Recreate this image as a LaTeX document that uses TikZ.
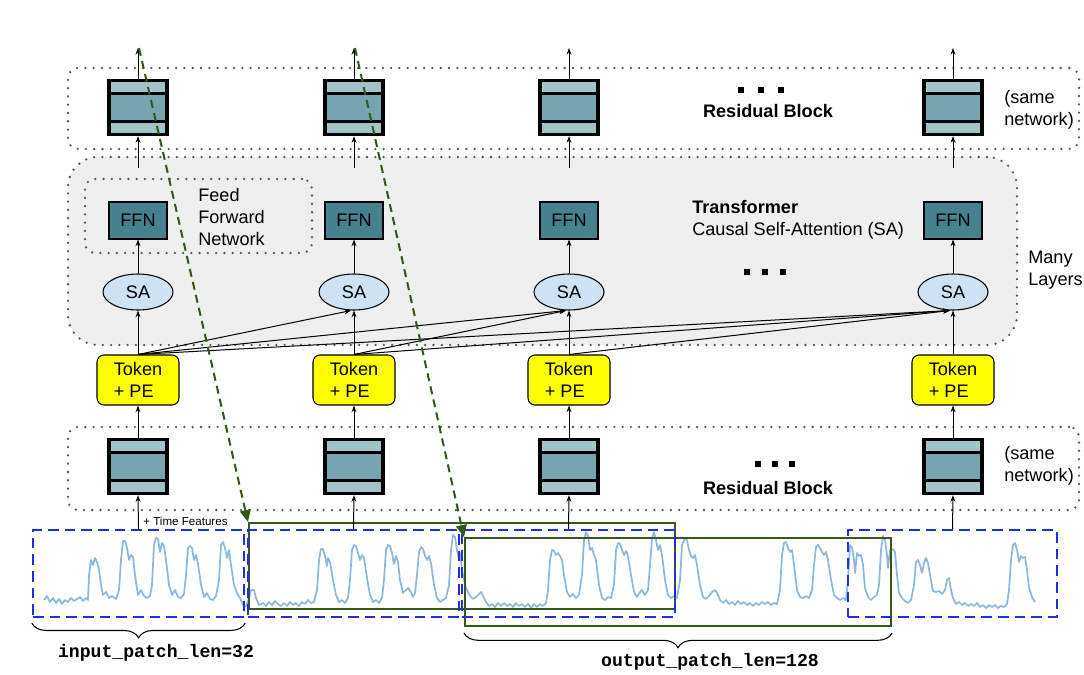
\documentclass[tikz,border=0pt]{standalone}
\usepackage{fontspec}
\setmainfont{Liberation Sans}
\setmonofont{Liberation Mono}
\usetikzlibrary{shapes.geometric,arrows.meta,decorations.pathreplacing,calc}
\newdimen\pxu \pxu=0.75pt
\definecolor{bandc}{HTML}{A2C4C9}
\definecolor{midc}{HTML}{76A5AF}
\definecolor{ffnc}{HTML}{45818E}
\definecolor{sac}{HTML}{CFE2F3}
\definecolor{trc}{HTML}{EFEFEF}
\definecolor{tokc}{HTML}{FFFF00}
\definecolor{patchc}{HTML}{1F2FE0}
\definecolor{grnc}{HTML}{38571F}
\definecolor{grnarr}{HTML}{2E5A14}
\definecolor{sigc}{HTML}{8DB8DE}
\definecolor{dotc}{HTML}{555555}
\newcommand\mainsz{\fontsize{13.6}{16.5}\selectfont}
\newcommand\smallsz{\fontsize{8.7}{10}\selectfont}
\tikzset{
  dotbox/.style={draw=dotc, line width=1.9pt, line cap=round, dash pattern=on 0pt off 6.2pt},
  resblock/.style={rectangle, draw=black, line width=3.2\pxu, fill=bandc,
    minimum width=58\pxu, minimum height=54\pxu, inner sep=0pt,
    path picture={
      \fill[midc] ([yshift=-13\pxu]path picture bounding box.north west) rectangle ([yshift=13\pxu]path picture bounding box.south east);
      \draw[line width=3.2\pxu] ([yshift=-13\pxu]path picture bounding box.north west) -- ([yshift=-13\pxu]path picture bounding box.north east);
      \draw[line width=3.2\pxu] ([yshift=13\pxu]path picture bounding box.south west) -- ([yshift=13\pxu]path picture bounding box.south east);
    }},
  ffnbox/.style={rectangle, draw=black, line width=0.8pt, fill=ffnc, minimum width=58\pxu, minimum height=37\pxu, inner sep=0pt},
  sabox/.style={ellipse, draw=black, line width=0.8pt, fill=sac, minimum width=70\pxu, minimum height=36\pxu, inner sep=0pt},
  tokbox/.style={rectangle, rounded corners=7\pxu, draw=black, line width=0.8pt, fill=tokc, minimum width=82\pxu, minimum height=50\pxu, inner sep=0pt, align=left},
  arr/.style={-{Stealth[length=5pt,width=3.6pt]}, line width=0.75pt},
  patch/.style={rectangle, draw=patchc, line width=1.7pt, dash pattern=on 8pt off 4.5pt, minimum width=211\pxu, minimum height=87\pxu, inner sep=0pt},
  gbox/.style={rectangle, draw=grnc, line width=1.5pt, minimum width=426\pxu, inner sep=0pt},
  garr/.style={draw=grnarr, line width=1.5pt, dash pattern=on 6pt off 4pt, -{Triangle[length=9pt,width=8pt]}},
  sig/.style={draw=sigc, line width=1.3pt, line join=round},
  lbl/.style={inner sep=0pt, align=left},
  brc/.style={decorate, decoration={brace, amplitude=11pt, mirror}, line width=0.8pt},
  dotsq/.style={fill=black}
}
\begin{document}
\begin{tikzpicture}[x=0.75pt,y=-0.75pt,font=\mainsz]
\useasboundingbox (0,0) rectangle (1084,674);
% regions
\node[dotbox, rounded corners=10\pxu, minimum width=1011\pxu, minimum height=81\pxu] (topreg) at (573.5,108.5) {};
\node[dotbox, fill=trc, rounded corners=30\pxu, minimum width=949\pxu, minimum height=188\pxu] (trreg) at (542.5,251) {};
\node[dotbox, rounded corners=10\pxu, minimum width=1011\pxu, minimum height=83\pxu] (botreg) at (573.5,468.5) {};
\node[dotbox, rounded corners=10\pxu, minimum width=227\pxu, minimum height=74\pxu] (ffnreg) at (198.5,216) {};

% signal
\draw[sig] plot coordinates {
(44,600) (47,596) (50,602) (53,598) (56,603) (59,599) (62,604) (65,600) (68,602) (71,598) (74,601) (77,599) (80,597) (83,601) (86,598) (88,600)
(89,575) (91,560) (93,565) (95,558) (97,562) (99,570) (101,585) (103,595) (106,592) (109,598) (112,596) (116,599) (119,590)
(121,560) (123,541) (125,541) (127,548) (129,560) (131,555) (133,557) (135,575) (138,595) (141,590) (144,596) (147,598) (150,596) (152,585)
(154,545) (156,538) (158,539) (160,552) (162,543) (164,546) (166,560) (169,585) (172,595) (175,590) (178,597) (181,598) (184,594) (186,575)
(188,548) (190,546) (192,548) (194,560) (196,555) (198,564) (201,585) (204,597) (207,593) (210,599) (213,600) (216,596) (219,580)
(221,545) (223,542) (225,548) (227,558) (229,550) (231,565) (234,585) (237,593) (240,598) (243,605)
(246,606) (249,598) (251,590) (254,590) (256,598) (259,605) (263,603) (266,606) (269,602) (272,605) (275,601) (278,604) (281,606) (284,603) (287,606) (290,602) (293,605) (296,603) (299,606) (302,602) (305,604) (308,600) (311,603) (314,602) (317,590)
(319,560) (321,549) (323,549) (325,556) (327,566) (328,558) (330,562) (333,580) (336,595) (339,602) (342,600) (345,603) (348,598) (350,580)
(352,550) (354,545) (356,546) (358,553) (360,560) (362,555) (364,558) (367,578) (370,595) (373,602) (376,600) (379,603) (382,598) (384,580)
(386,550) (388,545) (390,546) (392,553) (394,564) (396,556) (398,562) (400,580) (403,593) (406,590) (408,588) (411,592) (413,597) (415,593) (417,575)
(419,552) (421,547) (423,549) (425,556) (427,560) (429,556) (431,563) (434,585) (437,598) (440,602) (443,600) (446,598) (449,585)
(451,550) (453,535) (455,537) (457,550) (459,560) (460,553) (462,570) (465,585) (467,590) (470,596) (473,599) (476,597) (479,594) (481,592) (483,596) (486,602) (489,606)
(492,604) (495,607) (498,603) (501,606) (504,603) (507,606) (510,604) (513,607) (516,603) (519,606) (522,604) (525,607) (528,604) (531,608) (534,604) (537,607) (540,604) (543,606) (546,603) (548,590)
(550,560) (552,550) (554,551) (556,555) (558,553) (560,556) (562,560) (564,575) (567,592) (570,597) (573,594) (576,598) (579,595) (582,575)
(584,540) (586,532) (588,536) (590,550) (592,548) (594,555) (596,560) (599,585) (602,598) (605,600) (608,597) (611,598) (614,585)
(616,550) (618,543) (620,544) (622,550) (624,555) (626,551) (628,556) (631,575) (634,592) (637,597) (640,592) (642,590) (645,595) (648,590) (650,565)
(652,538) (654,532) (656,540) (658,550) (660,545) (662,555) (665,580) (668,595) (671,598) (674,596) (677,598) (680,580)
(682,545) (685,538) (687,540) (689,550) (691,556) (693,558) (695,555) (697,565) (700,585) (703,597) (706,599) (709,596) (712,592) (715,590) (717,593) (720,600) (723,603)
(726,600) (729,604) (732,602) (735,605) (738,601) (741,604) (744,602) (747,605) (750,603) (753,606) (756,603) (759,605) (762,602) (765,604) (768,602) (771,605) (774,603) (777,604) (780,590)
(782,555) (784,543) (786,542) (788,548) (790,552) (792,550) (794,565) (797,590) (800,597) (803,598) (806,596) (809,598) (812,590) (814,565)
(816,547) (818,545) (820,548) (822,552) (824,555) (826,552) (828,560) (831,580) (834,595) (837,598) (840,600) (843,598) (846,600) (848,580)
(850,545) (852,548) (854,560) (855,573) (857,553) (859,556) (861,555) (863,565) (865,588) (868,597) (871,600) (874,597) (877,595) (879,585) (881,550)
(883,536) (885,540) (887,555) (888,568) (890,550) (893,549) (895,552) (897,575) (899,593) (902,598) (905,601) (908,603) (911,600) (914,585)
(916,562) (918,560) (920,565) (922,573) (924,563) (926,558) (928,563) (930,575) (933,591) (936,592) (939,591) (942,594) (945,590) (947,580) (949,578) (951,590) (953,598) (956,604)
(959,602) (962,605) (965,603) (968,606) (971,604) (974,606) (977,603) (980,607) (983,605) (986,608) (989,605) (992,607) (995,605) (998,608) (1001,606) (1004,607) (1007,604) (1009,590)
(1011,560) (1013,545) (1015,543) (1017,550) (1019,562) (1021,556) (1023,558) (1025,557) (1027,570) (1029,588) (1032,597) (1035,602)
};

% patches
\node[gbox, minimum height=86\pxu] (g1) at (462,566) {};
\node[gbox, minimum height=88\pxu] (g2) at (678,582) {};
\node[patch] (p1) at (138.5,573.5) {};
\node[patch] (p2) at (353.5,573.5) {};
\node[patch, minimum width=213\pxu] (p3) at (568.5,573.5) {};
\node[patch, minimum width=209\pxu] (p4) at (952.5,573.5) {};

% columns
\foreach \i/\x in {1/138,2/354,3/569,4/953} {
  \node[resblock] (rt\i) at (\x,107.5) {};
  \node[ffnbox] (ffn\i) at (\x,220.5) {FFN};
  \node[sabox] (sa\i) at (\x,292) {SA};
  \node[tokbox] (tok\i) at (\x,380) {Token\\+ PE};
  \node[resblock] (rb\i) at (\x,466.5) {};
  \coordinate (out\i) at (\x,48);
  \coordinate (tin\i) at (\x,168);
  \draw[arr] (rt\i.north) -- (out\i);
  \draw[arr] (tin\i) -- (rt\i.south);
  \draw[arr] (sa\i.north) -- (ffn\i.south);
  \draw[arr] (tok\i.north) -- (sa\i.south);
  \draw[arr] (rb\i.north) -- (tok\i.south);
  \draw[arr] (p\i.north) -- (rb\i.south);
}

% causal attention connectors
\draw[arr] (tok1.north) -- ([xshift=-3\pxu]sa2.south);
\draw[arr] (tok1.north) -- ([xshift=-3\pxu]sa3.south);
\draw[arr] (tok1.north) -- ([xshift=-3\pxu]sa4.south);
\draw[arr] (tok2.north) -- ([xshift=-3\pxu]sa3.south);
\draw[arr] (tok2.north) -- ([xshift=-3\pxu]sa4.south);
\draw[arr] (tok3.north) -- ([xshift=-3\pxu]sa4.south);

% texts
\node[lbl, font=\mainsz\bfseries] (rbtop) at (768,111) {Residual Block};
\node[lbl, font=\mainsz\bfseries] (rbbot) at (768,488) {Residual Block};
\node[lbl, anchor=west] (same1) at (1004,110) {(same\\network)};
\node[lbl, anchor=west] (same2) at (1004,466) {(same\\network)};
\node[lbl, anchor=west] (many) at (1028,270) {Many\\Layers};
\node[lbl, anchor=west] (ffntxt) at (198,217) {Feed\\Forward\\Network};
\node[lbl, anchor=west] (trtxt) at (692,220) {\textbf{Transformer}\\Causal Self-Attention (SA)};
\node[lbl, anchor=west, font=\smallsz] (tf) at (143,521) {+ Time Features};

% dots
\foreach \x in {741,761,781} \fill[dotsq] (\x-2.6,87.4) rectangle (\x+2.6,92.6);
\foreach \x in {747,765,783} \fill[dotsq] (\x-2.6,269.4) rectangle (\x+2.6,274.6);
\foreach \x in {758,775,792} \fill[dotsq] (\x-2.6,461.4) rectangle (\x+2.6,466.6);

% braces
\draw[brc] ([yshift=-5\pxu]p1.south west) -- ([yshift=-5\pxu]p1.south east);
\draw[brc] ([yshift=-6\pxu]g2.south west) -- ([yshift=-6\pxu]g2.south east);
\node[lbl, font=\mainsz\ttfamily\bfseries] (inlbl) at (156,653) {input\_patch\_len=32};
\node[lbl, font=\mainsz\ttfamily\bfseries] (outlbl) at (710,662) {output\_patch\_len=128};

% green dashed arrows
\draw[garr] ([xshift=1\pxu]out1) -- (g1.north west);
\draw[garr] ([xshift=1\pxu]out2) -- (g2.north west);
\end{tikzpicture}
\end{document}
